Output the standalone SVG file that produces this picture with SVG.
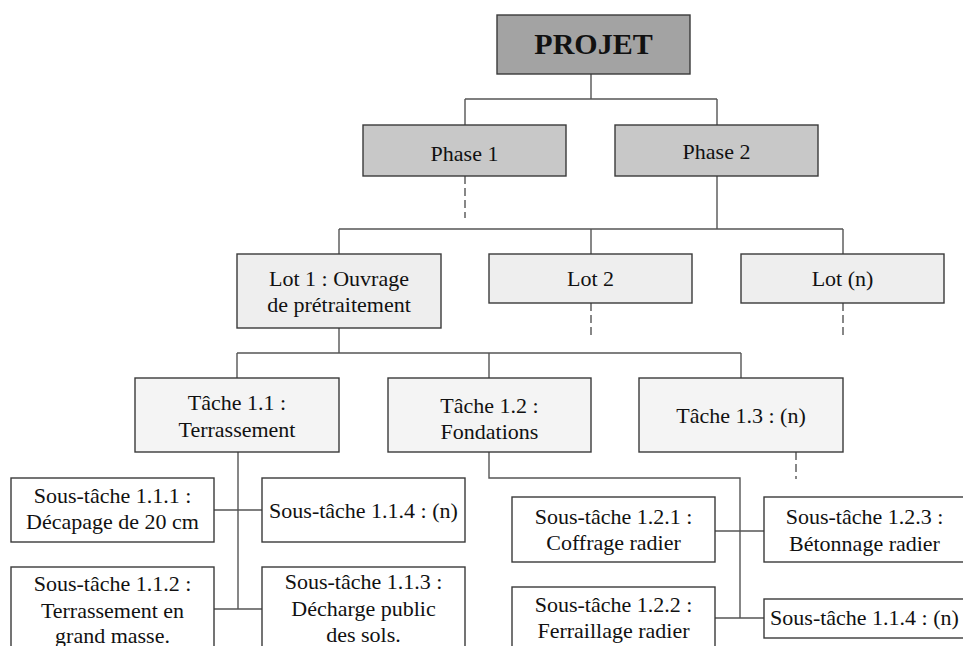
<svg xmlns="http://www.w3.org/2000/svg" width="963" height="646" viewBox="0 0 963 646">
  <style>
    .box { stroke: #3a3a3a; stroke-width: 1.4; }
    .root { fill: #a3a3a3; }
    .phase { fill: #c8c8c8; }
    .lot { fill: #eeeeee; }
    .task { fill: #f4f4f4; }
    .sub { fill: #ffffff; }
    .link { stroke: #555555; stroke-width: 1.4; fill: none; }
    .dash { stroke: #555555; stroke-width: 1.4; fill: none; stroke-dasharray: 8 4; }
    text { font-family: "Liberation Serif", "Times New Roman", serif; font-size: 22px; fill: #111111; text-anchor: middle; }
    .title { font-size: 30px; font-weight: bold; }
  </style>
  <rect width="963" height="646" fill="#ffffff"/>

  <!-- connectors -->
  <g id="connectors">
    <!-- projet to phases -->
    <path class="link" d="M591 74V99M465 99H717M465 99V125M717 99V125"/>
    <path class="dash" d="M465 176V218"/>
    <!-- phase 2 to lots -->
    <path class="link" d="M717 176V229M339 229H843M339 229V254M591 229V254M843 229V254"/>
    <path class="dash" d="M591 303V338M843 303V338"/>
    <!-- lot 1 to tasks -->
    <path class="link" d="M339 328V353M237 353H741M237 353V378M489 353V378M741 353V378"/>
    <!-- task 1.1 to sub-tasks -->
    <path class="link" d="M238 452V609M214 510H262M214 609H262"/>
    <!-- task 1.2 to sub-tasks -->
    <path class="link" d="M489 452V478H740V618M715 531H764M715 618H764"/>
    <path class="dash" d="M796 452V479"/>
  </g>

  <g id="projet">
    <rect class="box root" x="497" y="15" width="193" height="59"/>
    <text class="title" x="593.5" y="54">PROJET</text>
  </g>

  <g id="phase-1">
    <rect class="box phase" x="363" y="125" width="203" height="51"/>
    <text x="464.5" y="161">Phase 1</text>
  </g>
  <g id="phase-2">
    <rect class="box phase" x="615" y="125" width="203" height="51"/>
    <text x="716.5" y="158.5">Phase 2</text>
  </g>

  <g id="lot-1">
    <rect class="box lot" x="237" y="254" width="204" height="74"/>
    <text x="339" y="286">Lot 1 : Ouvrage</text>
    <text x="339" y="312">de prétraitement</text>
  </g>
  <g id="lot-2">
    <rect class="box lot" x="489" y="254" width="203" height="49"/>
    <text x="590.5" y="286">Lot 2</text>
  </g>
  <g id="lot-n">
    <rect class="box lot" x="741" y="254" width="203" height="49"/>
    <text x="842.5" y="286">Lot (n)</text>
  </g>

  <g id="tache-1-1">
    <rect class="box task" x="135" y="378" width="204" height="74"/>
    <text x="237" y="410">Tâche 1.1 :</text>
    <text x="237" y="436.5">Terrassement</text>
  </g>
  <g id="tache-1-2">
    <rect class="box task" x="388" y="378" width="203" height="74"/>
    <text x="489.5" y="413">Tâche 1.2 :</text>
    <text x="489.5" y="439">Fondations</text>
  </g>
  <g id="tache-1-3">
    <rect class="box task" x="639" y="378" width="204" height="74"/>
    <text x="741" y="423">Tâche 1.3 : (n)</text>
  </g>

  <g id="sous-tache-1-1-1">
    <rect class="box sub" x="11" y="478" width="203" height="64"/>
    <text x="112.5" y="502.5">Sous-tâche 1.1.1 :</text>
    <text x="112.5" y="528.5">Décapage de 20 cm</text>
  </g>
  <g id="sous-tache-1-1-4">
    <rect class="box sub" x="262" y="478" width="203" height="64"/>
    <text x="363.5" y="517.5">Sous-tâche 1.1.4 : (n)</text>
  </g>
  <g id="sous-tache-1-1-2">
    <rect class="box sub" x="11" y="567" width="203" height="100"/>
    <text x="112.5" y="591">Sous-tâche 1.1.2 :</text>
    <text x="112.5" y="617.5">Terrassement en</text>
    <text x="112.5" y="643">grand masse.</text>
  </g>
  <g id="sous-tache-1-1-3">
    <rect class="box sub" x="262" y="567" width="203" height="100"/>
    <text x="363.5" y="589">Sous-tâche 1.1.3 :</text>
    <text x="363.5" y="616">Décharge public</text>
    <text x="363.5" y="642">des sols.</text>
  </g>

  <g id="sous-tache-1-2-1">
    <rect class="box sub" x="512" y="497" width="203" height="65"/>
    <text x="613.5" y="523.5">Sous-tâche 1.2.1 :</text>
    <text x="613.5" y="550">Coffrage radier</text>
  </g>
  <g id="sous-tache-1-2-2">
    <rect class="box sub" x="512" y="587" width="203" height="80"/>
    <text x="613.5" y="612">Sous-tâche 1.2.2 :</text>
    <text x="613.5" y="638">Ferraillage radier</text>
  </g>
  <g id="sous-tache-1-2-3">
    <rect class="box sub" x="764" y="497" width="201" height="65"/>
    <text x="864.5" y="524">Sous-tâche 1.2.3 :</text>
    <text x="864.5" y="550.5">Bétonnage radier</text>
  </g>
  <g id="sous-tache-1-2-n">
    <rect class="box sub" x="764" y="599" width="201" height="39"/>
    <text x="864.5" y="625">Sous-tâche 1.1.4 : (n)</text>
  </g>
</svg>
